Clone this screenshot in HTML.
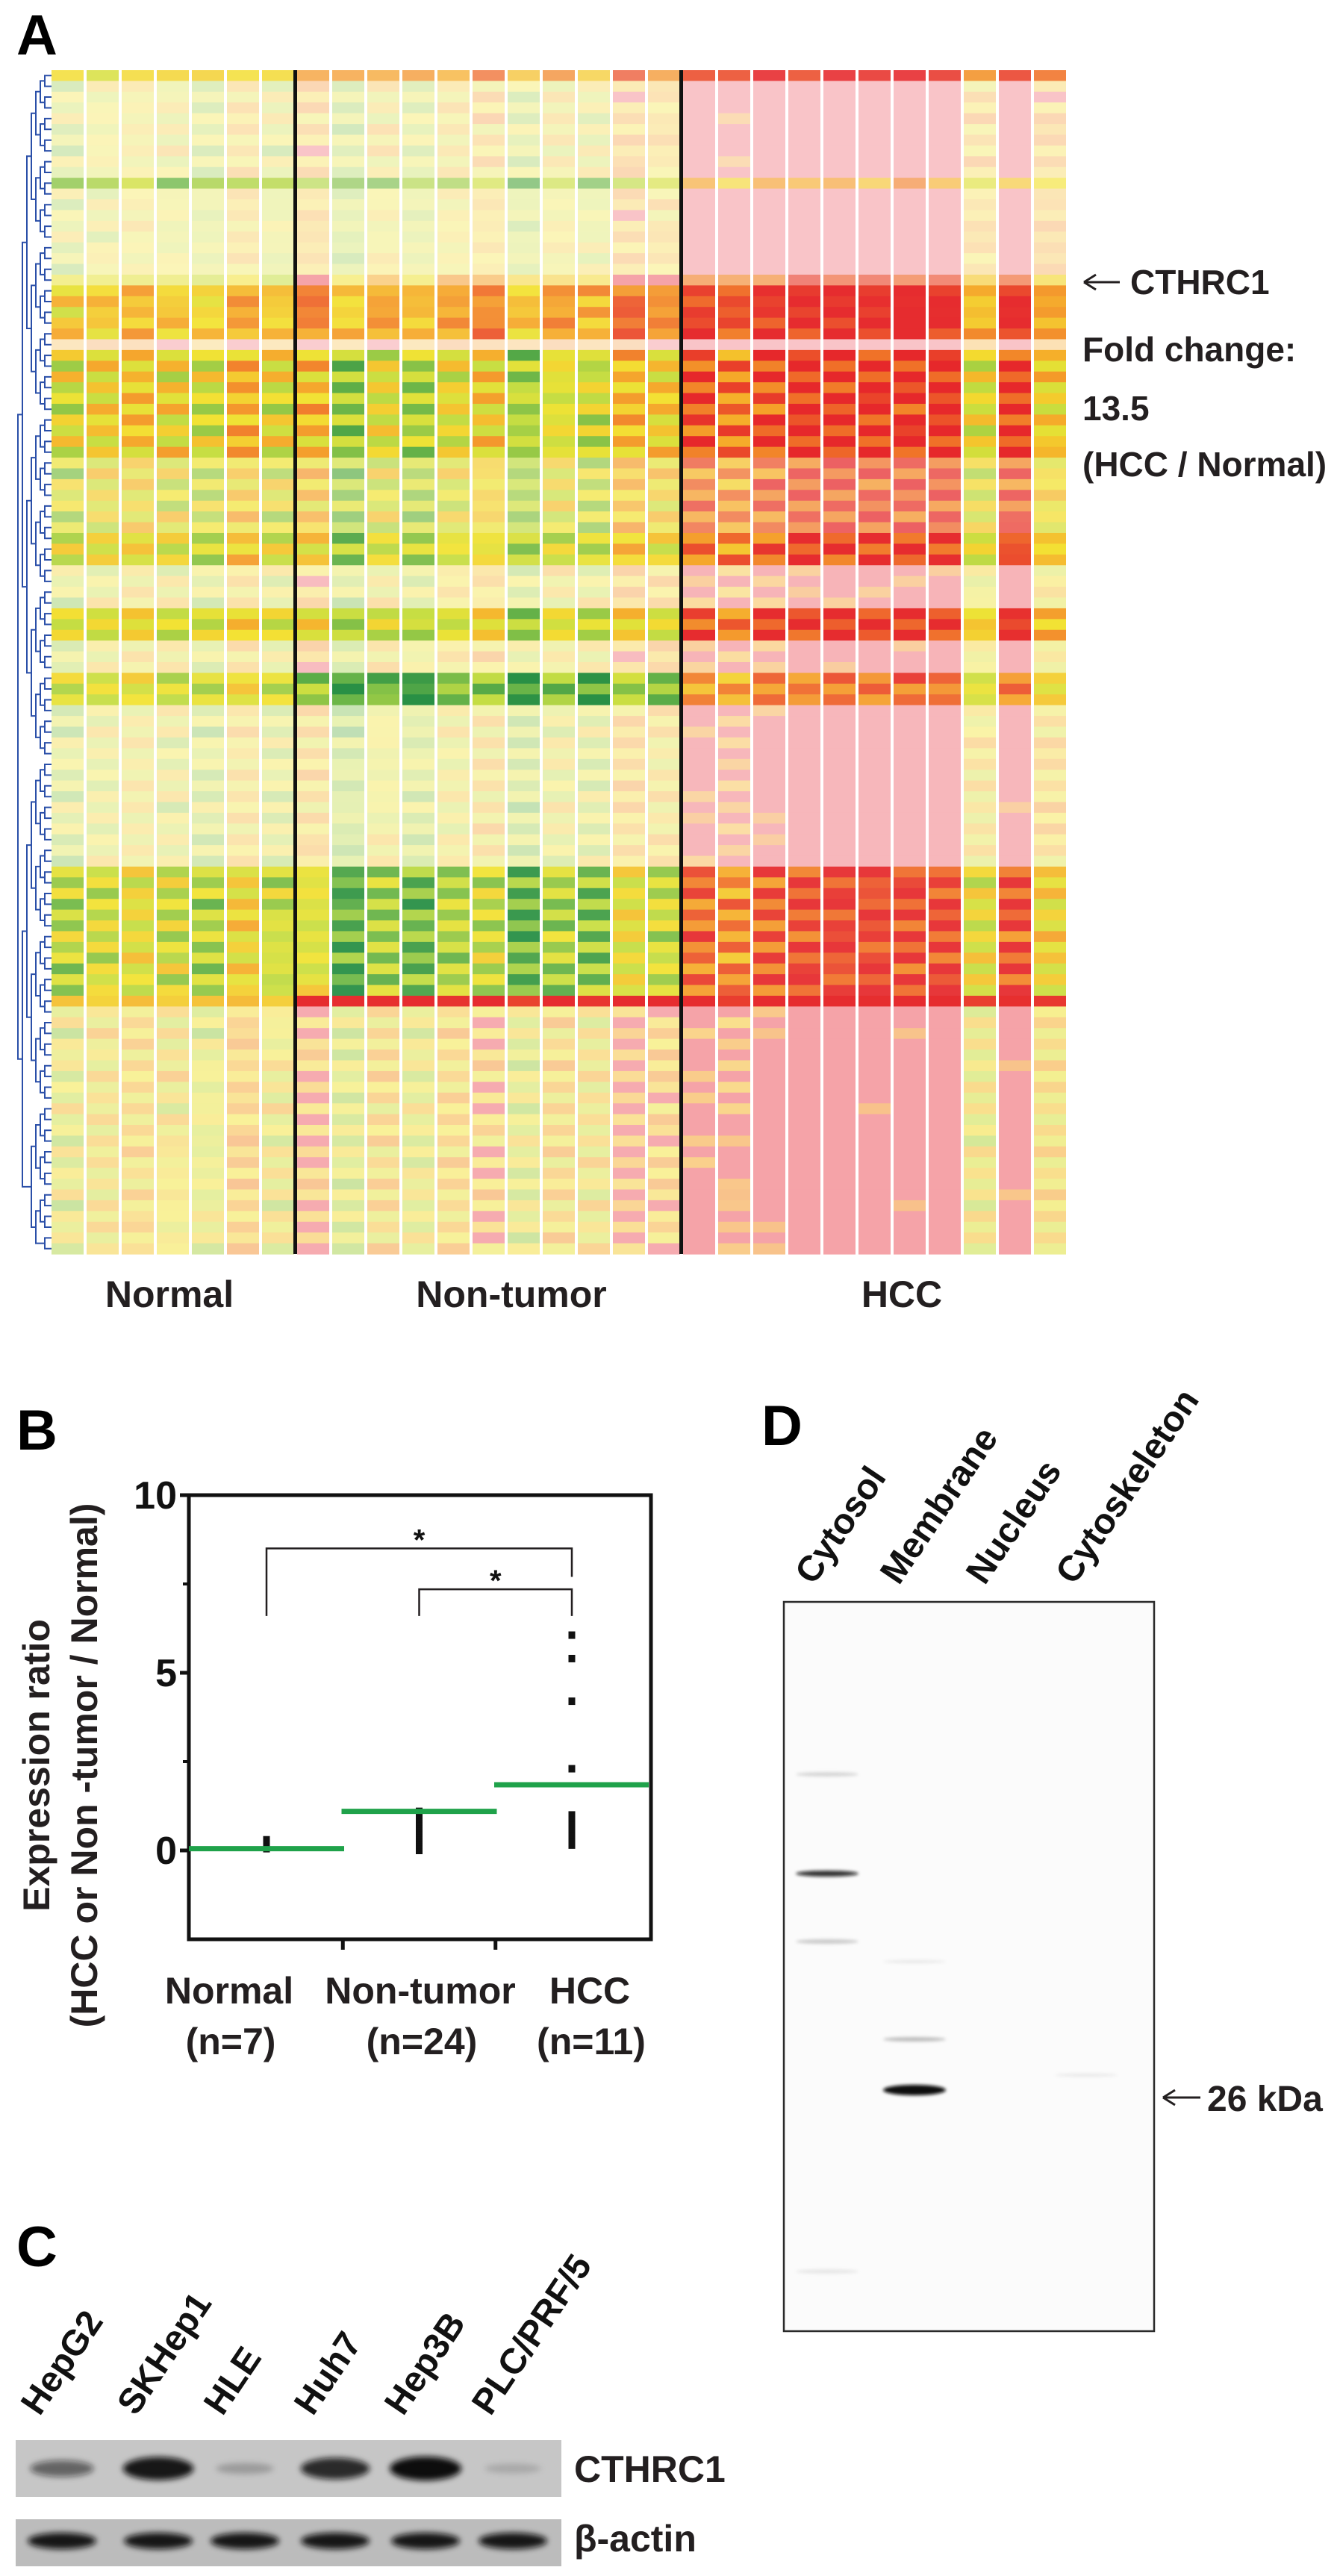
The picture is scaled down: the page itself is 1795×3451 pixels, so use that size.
<!DOCTYPE html>
<html><head><meta charset="utf-8">
<style>
html,body{margin:0;padding:0;background:#fff;}
svg{display:block;font-family:"Liberation Sans",Arial,sans-serif;font-weight:bold;}
</style></head>
<body>
<svg id="fig" width="1795" height="3451" viewBox="0 0 1795 3451" xmlns="http://www.w3.org/2000/svg">
<defs>
<filter id="blur4" x="-50%" y="-100%" width="200%" height="300%"><feGaussianBlur stdDeviation="4"/></filter>
<filter id="blur2" x="-50%" y="-100%" width="200%" height="300%"><feGaussianBlur stdDeviation="2"/></filter>
</defs>
<!-- Panel A -->
<text x="22" y="73" font-size="76">A</text>
<g id="heat"></g>
<g id="dendro" stroke="#2a4fa8" stroke-width="2" fill="none"></g>
<rect x="393" y="94" width="5" height="1586" fill="#111"/>
<rect x="910" y="94" width="5" height="1586" fill="#111"/>
<g font-size="46" fill="#231f20">
<path d="M1452 378 L1500 378 M1452 378 L1468 368 M1452 378 L1468 388" stroke="#231f20" stroke-width="3" fill="none"/>
<text x="1514" y="394">CTHRC1</text>
<text x="1450" y="484">Fold change:</text>
<text x="1450" y="563">13.5</text>
<text x="1450" y="638">(HCC / Normal)</text>
</g>
<g font-size="50" fill="#231f20" text-anchor="middle">
<text x="227" y="1751">Normal</text>
<text x="685" y="1751">Non-tumor</text>
<text x="1208" y="1751">HCC</text>
</g>

<!-- Panel B -->
<text x="22" y="1942" font-size="76">B</text>
<g id="scatter"></g>

<!-- Panel C -->
<text x="22" y="3036" font-size="76">C</text>
<g id="blotc"></g>

<!-- Panel D -->
<text x="1020" y="1936" font-size="76">D</text>
<g id="blotd"></g>
</svg>
<script>
const NS="http://www.w3.org/2000/svg";
function mk(tag,attrs,parent){const e=document.createElementNS(NS,tag);for(const k in attrs)e.setAttribute(k,attrs[k]);if(parent)parent.appendChild(e);return e;}

/* ===== Heatmap data ===== */
const groupOfCol=[0,0,0,0,0,0,0, 1,1,1,1,1,1,1,1,1,1,1, 2,2,2,2,2,2,2,2,2,2,2];
const colOffset=[-0.5,0,0.4,0,-0.6,0.9,-0.3, 1.3,-1,0.3,-0.6,0.4,0.9,-0.8,0.3,-0.2,1.5,0.9, 0.2,-0.3,0.4,0.9,0.9,1,1,1,-2.6,0.9,-2.1];
const colWeight=[0.8,-0.6,0.4,-0.9,0.7,-0.3,0.9, -0.7,0.6,-0.8,0.5,-0.4,0.9,-0.6,0.7,-0.9,0.3,-0.5, 0.6,-0.8,0.7,-0.4,0.5,-0.7,0.8,-0.3,0.6,-0.9,0.4];
const rowSign=[0.4,-0.8,0.6,-0.3,0.9,-0.6,0.2,-0.9,0.7,-0.4,0.1,0.8,-0.7,0.5,-0.2,0.9,-0.5,0.3,-0.8,0.6,
 -0.4,0.7,-0.9,0.3,0.8,-0.2,0.6,-0.7,0.9,-0.5,0.2,-0.8,0.5,-0.3,0.8,-0.6,0.4,-0.9,0.7,-0.1,
 0.6,-0.7,0.3,-0.5,0.9,-0.4,0.8,-0.2,0.5,-0.9,0.6,-0.3,0.7,-0.8,0.2,-0.6,0.9,-0.4,0.5,-0.7,
 0.3,-0.9,0.8,-0.2,0.6,-0.5,0.4,-0.8,0.9,-0.3,0.7,-0.6,0.2,-0.9,0.5,-0.4,0.8,-0.7,0.3,-0.5,
 0.9,-0.2,0.6,-0.8,0.4,-0.6,0.7,-0.3,0.8,-0.9,0.5,-0.1,0.6,-0.7,0.3,-0.5,0.9,-0.4,0.2,-0.8,
 0.7,-0.6,0.4,-0.3,0.8,-0.9,0.5,-0.2,0.6,-0.7];
const bandStart=[0,1,10,11,19,20,25,26,36,43,46,50,53,56,59,74,86,87];
const bandEnd  =[0,9,10,18,19,24,25,35,42,45,49,52,55,58,73,85,86,109];
const bandNormal=[0,-0.3,-1.5,-0.3,-0.5,0.5,1.2,0,-0.3,-0.3,-0.3,-0.3,-0.2,-0.5,-0.4,-0.6,0.5,0];
const bandNormalPale=[0.2,0.7,0.25,0.7,0.5,0.1,0.75,0.05,0.35,0.1,0.65,0.05,0.65,0.1,0.66,0.1,0.1,0.55];
const bandNontumor=[1.2,-0.2,-1.5,-0.3,0.6,1,1.2,-0.6,-0.6,-0.8,-0.2,-0.8,0,-2.2,-0.5,-1.5,3,0.1];
const bandNontumorPale=[0.3,0.7,0.4,0.7,0.5,0.1,0.75,0.05,0.35,0.1,0.65,0.05,0.65,0.05,0.65,0.1,0.05,0.55];
const bandHcc=[2.6,2.4,0.6,2.4,1.8,2.4,2,2,1.6,1.8,1.4,2.1,1.6,1.2,1.9,1.8,3,1.8];
const bandHccPale=[0.15,0.7,0.4,0.7,0.4,0.05,0.7,0.03,0.3,0.05,0.6,0.05,0.6,0.1,0.62,0.1,0.05,0.5];
const bandAmp=[1,1.3,1,1.3,1,1.2,0.6,1.6,1.4,1.4,1.3,1.3,1.2,1.2,1.3,1.5,0.3,1.4];

const HM={x0:69,pitch:47,cellW:43,y0:94,rowH:1586/110,rows:110};
const stops=[[-3,[30,138,60]],[-2,[106,181,63]],[-1,[196,220,58]],[0,[242,225,42]],[1,[245,166,35]],[2,[239,106,34]],[3,[229,34,37]]];
function colorFor(v,pale){
  v=Math.max(-3,Math.min(3,v));
  let c=stops[0][1];
  for(let i=0;i<stops.length-1;i++){if(v>=stops[i][0]&&v<=stops[i+1][0]){const t=(v-stops[i][0]);c=stops[i][1].map((a,k)=>a+(stops[i+1][1][k]-a)*t);break;}}
  if(v>1.5&&pale>0.4){c=[236,80,90];}
  const p=Math.max(0,Math.min(0.85,pale));
  c=c.map(a=>Math.round(a+(255-a)*p*0.95));
  return `rgb(${c[0]},${c[1]},${c[2]})`;
}
const heat=document.getElementById('heat');
for(let b=0;b<bandStart.length;b++){
  for(let r=bandStart[b];r<=bandEnd[b];r++){
    for(let c=0;c<groupOfCol.length;c++){
      const g=groupOfCol[c];
      const base=[bandNormal[b],bandNontumor[b],bandHcc[b]][g];
      const pale=[bandNormalPale[b],bandNontumorPale[b],bandHccPale[b]][g];
      const v=base+bandAmp[b]*(colOffset[c]*0.55+rowSign[(r+c*7)%110]*0.6+rowSign[r]*colWeight[c]*0.4);
      const rc=mk('rect',{x:HM.x0+c*HM.pitch,y:(HM.y0+r*HM.rowH).toFixed(2),width:HM.cellW,height:(HM.rowH+0.6).toFixed(2),fill:colorFor(v,pale)},heat);
      
      
    }
  }
}
const dendro=document.getElementById('dendro');
let nodes=[];for(let r=0;r<HM.rows;r++){nodes.push({y:HM.y0+(r+0.5)*HM.rowH,x:HM.x0});}
let lx=60;
while(nodes.length>1){
  const next=[];
  for(let i=0;i<nodes.length;i+=2){
    if(i+1<nodes.length){
      const a=nodes[i],b=nodes[i+1];
      const d=`M${a.x} ${a.y.toFixed(1)} H${lx} V${b.y.toFixed(1)} H${b.x}`;
      const p=mk('path',{d:d},dendro);
      
      
      next.push({x:lx,y:(a.y+b.y)/2});
    } else next.push(nodes[i]);
  }
  nodes=next; lx-=6;
}

/* ===== Panel B scatter ===== */
const categories=["Normal","Non-tumor","HCC"];
const categoryN=["(n=7)","(n=24)","(n=11)"];
const normalValues=[0.05,0.08,0.1,0.15,0.2,0.25,0.3];
const nontumorValues=[0,0,0,0.02,0.05,0.08,0.1,0.15,0.2,0.25,0.3,0.35,0.4,0.45,0.5,0.55,0.6,0.65,0.7,0.75,0.8,0.9,1.0,1.1];
const hccValues=[6.06,5.4,4.2,2.3,1.0,0.85,0.7,0.55,0.4,0.25,0.15];
const groupMeans=[0.05,1.1,1.85];
const yTicks=[0,5,10];
const yMinorTicks=[-2.5,2.5,7.5];
const yDomain=[-2.5,10];
const sigPairs=[[0,2,8.5,6.6,7.7],[1,2,7.35,6.6,6.6]];

const B={left:253,right:872,top:2003,bottom:2598};
const yS=v=>B.bottom-(v-yDomain[0])/(yDomain[1]-yDomain[0])*(B.bottom-B.top);
const xC=i=>357+204.5*i;
const sc=document.getElementById('scatter');
const frame=mk('rect',{x:B.left,y:B.top,width:B.right-B.left,height:B.bottom-B.top,fill:"none",stroke:"#111","stroke-width":5},sc);

yTicks.forEach(t=>{
  const l=mk('line',{x1:B.left-12,x2:B.left,y1:yS(t),y2:yS(t),stroke:"#111","stroke-width":5},sc);
  
  const tx=mk('text',{x:B.left-16,y:yS(t)+18,"font-size":52,"text-anchor":"end",fill:"#111"},sc);
  tx.textContent=t;
  
});
yMinorTicks.forEach(t=>{
  if(t<=yDomain[0])return;
  const l=mk('line',{x1:B.left-8,x2:B.left,y1:yS(t),y2:yS(t),stroke:"#111","stroke-width":4},sc);
  
});
[0.5,1.5].forEach(f=>{
  const x=xC(f);
  const l=mk('line',{x1:x,x2:x,y1:B.bottom,y2:B.bottom+14,stroke:"#111","stroke-width":5},sc);
  
});
const catX=[307,563,790];
categories.forEach((c,i)=>{
  const t=mk('text',{x:catX[i],y:2684,"font-size":50,"text-anchor":"middle",fill:"#231f20"},sc);t.textContent=c;
  
  const n=mk('text',{x:catX[i]+2,y:2752,"font-size":50,"text-anchor":"middle",fill:"#231f20"},sc);n.textContent=categoryN[i];
  
});
const yt=mk('g',{transform:"translate(78,2365) rotate(-90)"},sc);

const yt1=mk('text',{x:0,y:-12,"font-size":50,"text-anchor":"middle",fill:"#231f20"},yt);yt1.textContent="Expression ratio";
const yt2=mk('text',{x:0,y:52,"font-size":50,"text-anchor":"middle",fill:"#231f20"},yt);yt2.textContent="(HCC or Non -tumor / Normal)";
[normalValues,nontumorValues,hccValues].forEach((arr,gi)=>{
  arr.forEach(v=>{
    const r=mk('rect',{x:xC(gi)-4.5,y:yS(v)-5,width:9,height:10,fill:"#111"},sc);
    
    
  });
});
groupMeans.forEach((m,gi)=>{
  const l=mk('line',{x1:xC(gi)-104,x2:Math.min(B.right-3,xC(gi)+104),y1:yS(m),y2:yS(m),stroke:"#1fa24a","stroke-width":7},sc);
  
  
});
sigPairs.forEach(p=>{
  const x1=xC(p[0]),x2=xC(p[1]);
  const d=`M${x1} ${yS(p[3])} V${yS(p[2])} H${x2} V${yS(p[4])}`;
  const br=mk('path',{d:d,fill:"none",stroke:"#231f20","stroke-width":2.5},sc);
  
  const st=mk('text',{x:(x1+x2)/2,y:yS(p[2])+2,"font-size":40,"text-anchor":"middle",fill:"#111"},sc);st.textContent="*";
  
});

/* ===== Panel C blot ===== */
const cellLines=["HepG2","SKHep1","HLE","Huh7","Hep3B","PLC/PRF/5"];
const cthrc1Intensity=[0.55,0.95,0.22,0.85,1.0,0.15];
const actinIntensity=[0.95,0.95,0.95,0.95,0.95,0.95];
const laneX=[83,212,328,449,570,687];
const bc=document.getElementById('blotc');
cellLines.forEach((n,i)=>{
  const g=mk('g',{transform:`translate(${laneX[i]-30},3238) rotate(-56)`},bc);
  const t=mk('text',{x:0,y:0,"font-size":48,fill:"#111"},g);t.textContent=n;
  
});
const s1=mk('rect',{x:21,y:3269,width:731,height:76,fill:"#c6c6c6"},bc);

const s2=mk('rect',{x:21,y:3375,width:731,height:63,fill:"#bcbcbc"},bc);

cthrc1Intensity.forEach((v,i)=>{
  const e=mk('ellipse',{cx:laneX[i],cy:3307,rx:36+12*v,ry:5+11*v,fill:"#111","fill-opacity":v,filter:"url(#blur4)"},bc);
  
});
actinIntensity.forEach((v,i)=>{
  const e=mk('ellipse',{cx:laneX[i],cy:3404,rx:46,ry:11,fill:"#111","fill-opacity":v,filter:"url(#blur4)"},bc);
  
});
const lc=mk('text',{x:769,y:3325,"font-size":50,fill:"#231f20"},bc);lc.textContent="CTHRC1";

const la=mk('text',{x:769,y:3418,"font-size":50,fill:"#231f20"},bc);la.textContent="β-actin";


/* ===== Panel D blot ===== */
const fractions=["Cytosol","Membrane","Nucleus","Cytoskeleton"];
const fracX=[1090,1204,1319,1439];
const bandFraction=[0,0,0,0,1,1,1,3];
const bandY=[2377,2510,2601,3043,2732,2800,2628,2780];
const bandIntensity=[0.15,0.85,0.2,0.08,0.25,1.0,0.08,0.08];
const bandThick=[3,4,3,3,3,7,2,2];
const bd=document.getElementById('blotd');
fractions.forEach((n,i)=>{
  const g=mk('g',{transform:`translate(${fracX[i]},2125) rotate(-56)`},bd);
  const t=mk('text',{x:0,y:0,"font-size":48,fill:"#111"},g);t.textContent=n;
  
});
const box=mk('rect',{x:1050,y:2146,width:496,height:977,fill:"#fbfbfb",stroke:"#2a2a2a","stroke-width":2.5},bd);

const laneCX=[1108,1225,1340,1455];
bandY.forEach((y,i)=>{
  const e=mk('ellipse',{cx:laneCX[bandFraction[i]],cy:y,rx:42,ry:bandThick[i],fill:"#111","fill-opacity":bandIntensity[i],filter:"url(#blur2)"},bd);
  
});
const arr=mk('path',{d:"M1558 2810 L1608 2810 M1558 2810 L1574 2800 M1558 2810 L1574 2820",stroke:"#231f20","stroke-width":3,fill:"none"},bd);

const kd=mk('text',{x:1617,y:2828,"font-size":48,fill:"#231f20"},bd);kd.textContent="26 kDa";

</script>
</body></html>
